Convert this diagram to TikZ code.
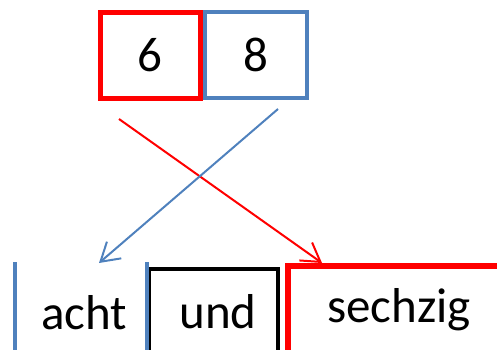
\documentclass[tikz,border=0pt]{standalone}
\usepackage{fontspec}
\setmainfont{Carlito}
\usepackage{tikz}
\usetikzlibrary{arrows.meta}
\definecolor{offblue}{HTML}{4F81BD}
\definecolor{offred}{HTML}{FF0000}

\begin{document}
\begin{tikzpicture}[x=1pt, y=-1pt,
    digit/.style={rectangle, draw, outer sep=0pt, inner sep=0pt, minimum height=86pt, text=black, font=\fontsize{49}{50}\selectfont},
    word/.style={rectangle, outer sep=0pt, inner sep=0pt, anchor=north west, font=\fontsize{49}{50}\selectfont},
    arrow/.style={-{Straight Barb[length=18pt,width=22pt]}, line width=2pt}
]
    \useasboundingbox (0,0) rectangle (497,349);
    \clip (0,0) rectangle (497,349);

    % Top row
    \node[digit, draw=offred, line width=5pt, minimum width=100pt] (six) at (150,55) {6};
    \node[digit, draw=offblue, line width=4pt, minimum width=102pt] (eight) at (256,55) {8};

    % Bottom row
    \node[word, minimum width=132pt, text height=67pt, text depth=71pt] (acht) at (15,262) {\hspace{6pt}acht};
    \node[word, draw, line width=4pt, minimum width=129pt, text height=59pt, text depth=80pt] (und) at (149,269) {\hspace{9pt}und};
    \node[word, draw=offred, line width=6pt, minimum width=222pt, text height=57pt, text depth=90pt] (sechzig) at (288,265.5) {sechzig};
    \draw[offblue, line width=4pt] (acht.north west) -- (acht.south west) (acht.north east) -- (acht.south east);

    \draw[arrow, offred] ([shift={(19,21)}]six.south west) -- ([shift={(34,-2.5)}]sechzig.north west);
    \draw[arrow, offblue] ([shift={(-29,11)}]eight.south east) -- ([shift={(84,1)}]acht.north west);
\end{tikzpicture}
\end{document}
